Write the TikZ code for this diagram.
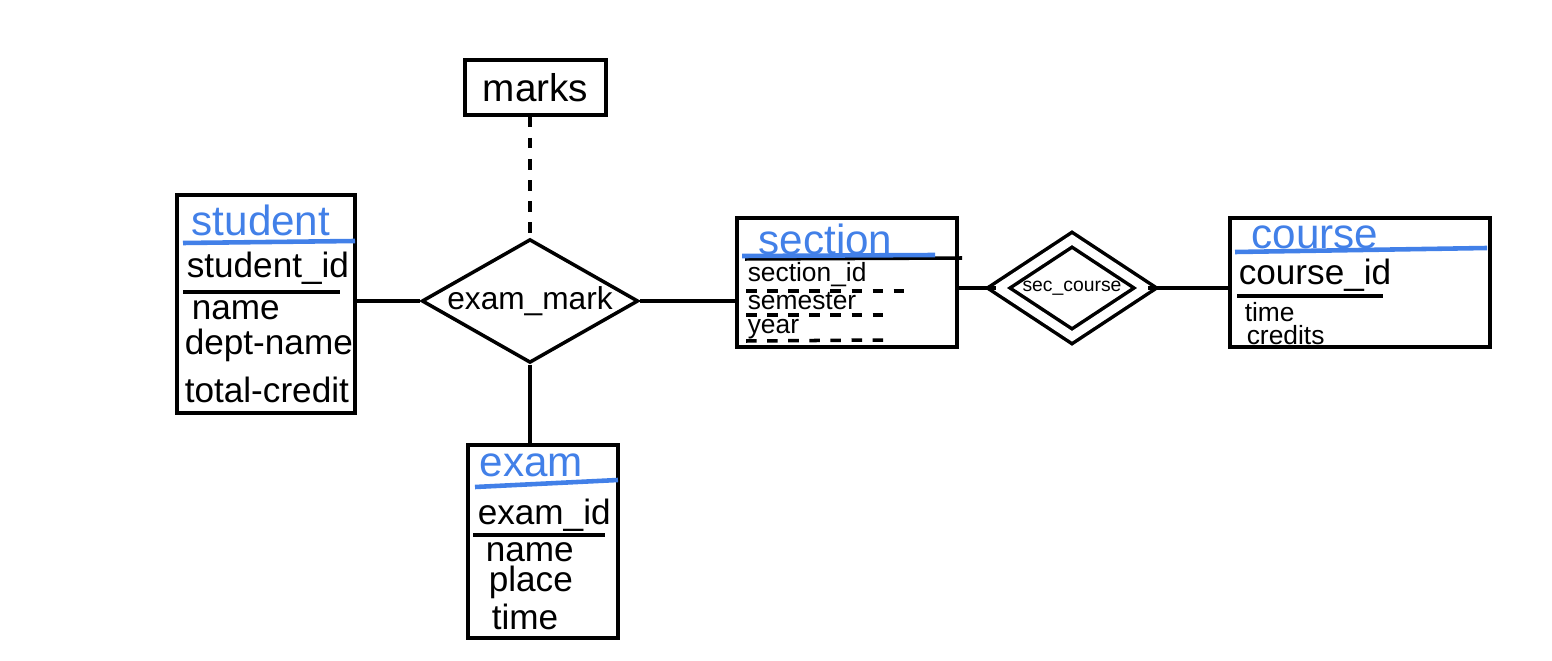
\documentclass[tikz,border=0pt]{standalone}
\usepackage{fontspec}
\setmainfont{Liberation Sans}
\usetikzlibrary{shapes.geometric}
\definecolor{penblue}{RGB}{66,128,232}
\begin{document}
\begin{tikzpicture}[x=0.01cm, y=-0.01cm, line width=1pt,
    entbox/.style={draw, rectangle, inner sep=0pt},
    relbox/.style={draw, diamond, inner sep=0pt, aspect=1.75},
    title/.style={anchor=west, inner sep=0pt, text=penblue, font=\fontsize{12}{12}\selectfont},
    attr/.style={anchor=west, inner sep=0pt, font=\fontsize{10}{10}\selectfont},
    small/.style={anchor=west, inner sep=0pt, font=\fontsize{7.5}{7.5}\selectfont},
    blueline/.style={draw=penblue, line width=1.3pt}]
    \useasboundingbox (0,0) rectangle (1552,661);

    % entity boxes
    \node[entbox, minimum width=1.78cm, minimum height=2.18cm] (student) at (266,304) {};
    \node[entbox, minimum width=1.50cm, minimum height=1.93cm] (exam) at (543,541.5) {};
    \node[entbox, minimum width=1.41cm, minimum height=0.55cm,
          font=\fontsize{11}{11}\selectfont] (marks) at (535.5,87.5) {marks};
    \node[entbox, minimum width=2.20cm, minimum height=1.29cm] (section) at (847,282.5) {};
    \node[entbox, minimum width=2.60cm, minimum height=1.29cm] (course) at (1360,282.5) {};

    % relationships
    \node[relbox, minimum width=1.96cm, minimum height=1.12cm,
          font=\fontsize{9}{9}\selectfont] (exammark) at (530,301) {exam\_mark};
    \node[relbox, double, double distance=2.5pt, minimum width=1.48cm, minimum height=0.98cm,
          font=\fontsize{5.5}{5.5}\selectfont] (seccourse) at (1072,288) {sec\_course};

    % student
    \node[title] (studentT) at (190,220) {student};
    \draw[blueline] (183,243) -- (355,241);
    \node[attr] (studentA) at (185,268) {student\_id};
    \draw (183,292) -- (340,292);
    \node[attr] (studentB) at (190,310) {name};
    \node[attr] (studentC) at (183,345) {dept-name};
    \node[attr] (studentD) at (183,390) {total-credit};

    % exam
    \node[title] (examT) at (478,465) {exam};
    \draw[blueline] (475,487) -- (618,480);
    \node[attr] (examA) at (476,515) {exam\_id};
    \draw (473,535) -- (605,535);
    \node[attr] (examB) at (484,552) {name};
    \node[attr] (examC) at (487,582) {place};
    \node[attr] (examD) at (490,617) {time};

    % section
    \node[title] (sectionT) at (757,239) {section};
    \draw (745,259) -- (962,258);
    \draw[blueline] (742,256) -- (935,255);
    \node[small] (sectionA) at (746,275) {section\_id};
    \draw[dashed] (746,291) -- (910,291);
    \node[small] (sectionB) at (746,301) {semester};
    \draw[dashed] (746,315) -- (885,315);
    \node[small] (sectionC) at (746,329) {year};
    \draw[dashed] (746,341) -- (885,340);

    % course
    \node[title] (courseT) at (1250,237) {course};
    \draw[blueline] (1235,252) -- (1487,248);
    \node[attr] (courseA) at (1237,275) {course\_id};
    \draw (1237,296) -- (1383,296);
    \node[small] (courseB) at (1243,312) {time};
    \node[small] (courseC) at (1245,335) {credits};

    % connectors
    \draw[dashed] (exammark.north |- marks.south) -- (exammark.north);
    \draw (exammark.south) -- (exammark.south |- exam.north);
    \draw (student.east |- exammark.west) -- (exammark.west);
    \draw (exammark.east) -- (exammark.east -| section.west);
    \draw (seccourse.west -| section.east) -- (seccourse.west);
    \draw (seccourse.east) -- (seccourse.east -| course.west);
\end{tikzpicture}
\end{document}
